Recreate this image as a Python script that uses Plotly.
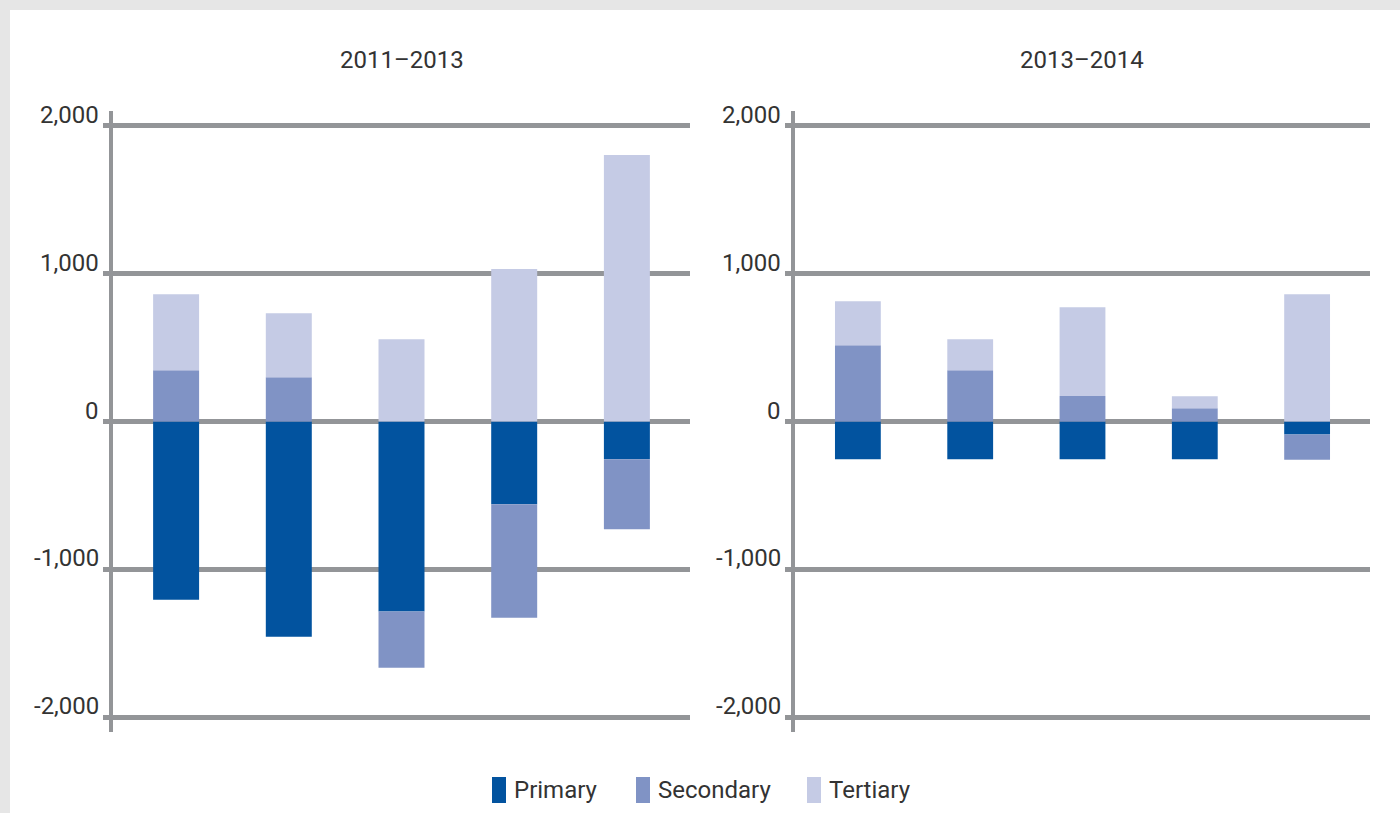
import plotly.graph_objects as go

categories = ["1", "2", "3", "4", "5"]
series_names = ["Primary", "Secondary", "Tertiary"]
series_colors = ["#02539F", "#8093C5", "#C5CBE5"]

# Period 2011-2013
primary_1113 = [-1205, -1455, -1285, -560, -255]
secondary_1113 = [346, 300, -380, -768, -474]
tertiary_1113 = [515, 432, 556, 1032, 1803]

# Period 2013-2014
primary_1314 = [-255, -255, -255, -255, -88]
secondary_1314 = [515, 346, 172, 90, -170]
tertiary_1314 = [299, 210, 601, 80, 861]

panel_titles = ["2011\u20132013", "2013\u20132014"]
tick_vals = [-2000, -1000, 0, 1000, 2000]
tick_text = ["-2,000", "-1,000", "0", "1,000", "2,000"]

W, H = 1400, 813
FONT = "Roboto, Liberation Sans, Arial, sans-serif"
FSIZE = 24
GRID = "#939598"
TXT = "#333333"

fig = go.Figure()

panels = [
    (primary_1113, secondary_1113, tertiary_1113),
    (primary_1314, secondary_1314, tertiary_1314),
]
x_domains = [[113 / W, 690 / W], [795 / W, 1370 / W]]
y_domain = [1 - 732 / H, 1 - 111 / H]

for p, (pri, sec, ter) in enumerate(panels):
    xa = "x" if p == 0 else "x2"
    ya = "y" if p == 0 else "y2"
    for name, color, vals in zip(series_names, series_colors, (pri, sec, ter)):
        fig.add_trace(go.Bar(
            x=categories, y=vals, name=name, marker=dict(color=color, line=dict(width=0)),
            xaxis=xa, yaxis=ya, showlegend=False,
        ))

axis_common_x = dict(showgrid=False, zeroline=False, showline=False, showticklabels=False,
                     ticks="", range=[-0.56, 4.56], type="category", fixedrange=True)
axis_common_y = dict(range=[-2100, 2100], tickvals=tick_vals, showticklabels=False,
                     showgrid=True, gridcolor=GRID, gridwidth=5, zeroline=False,
                     showline=True, linecolor=GRID, linewidth=4,
                     ticks="outside", ticklen=6, tickwidth=5, tickcolor=GRID,
                     domain=y_domain, fixedrange=True)

fig.update_layout(
    width=W, height=H,
    margin=dict(l=0, r=0, t=0, b=0),
    paper_bgcolor="#e6e6e6", plot_bgcolor="rgba(0,0,0,0)",
    barmode="relative", bargap=0.592,
    showlegend=False,
    xaxis=dict(domain=x_domains[0], anchor="y", **axis_common_x),
    xaxis2=dict(domain=x_domains[1], anchor="y2", **axis_common_x),
    yaxis=dict(anchor="x", **axis_common_y),
    yaxis2=dict(anchor="x2", **axis_common_y),
)

# White card background
fig.add_shape(type="rect", xref="paper", yref="paper", x0=10 / W, x1=1.0, y0=0, y1=1 - 10 / H,
              fillcolor="white", line=dict(width=0), layer="below")

# Y tick labels (slightly raised above the gridlines, as in the original)
label_right = [101, 783]
for p, lx in enumerate(label_right):
    yref = "y" if p == 0 else "y2"
    for v, t in zip(tick_vals, tick_text):
        fig.add_annotation(text=t, xref="paper", yref=yref, x=lx / W, y=v, yshift=11,
                           showarrow=False, xanchor="right", yanchor="middle",
                           font=dict(family=FONT, size=FSIZE, color=TXT))

# Panel titles
for t, dom in zip(panel_titles, x_domains):
    fig.add_annotation(text=t, xref="paper", yref="paper", x=(dom[0] + dom[1]) / 2,
                       y=1 - 60 / H, showarrow=False, xanchor="center", yanchor="middle",
                       font=dict(family=FONT, size=FSIZE, color=TXT))

# Manual legend
legend_x = [492, 636, 807]
for name, color, lx in zip(series_names, series_colors, legend_x):
    fig.add_shape(type="rect", xref="paper", yref="paper",
                  x0=lx / W, x1=(lx + 14) / W, y0=1 - 803 / H, y1=1 - 777 / H,
                  fillcolor=color, line=dict(width=0))
    fig.add_annotation(text=name, xref="paper", yref="paper", x=(lx + 20) / W, y=1 - 790 / H,
                       showarrow=False, xanchor="left", yanchor="middle",
                       font=dict(family=FONT, size=FSIZE, color=TXT))

fig.write_html("out.html", config={"displayModeBar": False},
               post_script="document.body.style.margin='0';document.body.style.padding='0';")
